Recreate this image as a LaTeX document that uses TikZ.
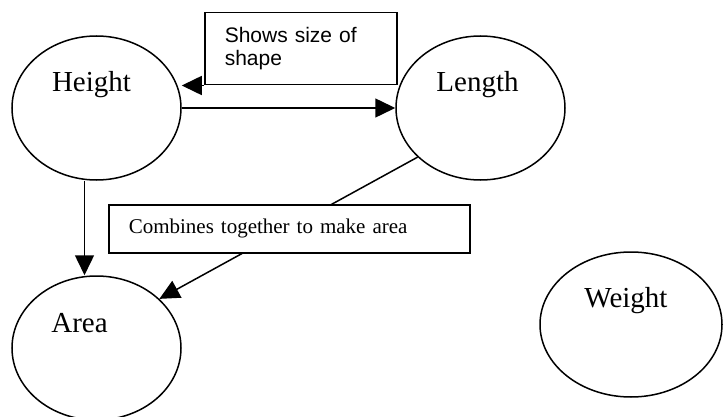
\documentclass[tikz,border=0pt]{standalone}
\usepackage{fontspec}
\setmainfont{Liberation Serif}
\newfontfamily\arialfont{Liberation Sans}
\usetikzlibrary{positioning,arrows.meta,shapes.geometric}

\begin{document}
\begin{tikzpicture}[->,>={Triangle[length=20pt,width=19pt]},line width=1.5pt,x=1pt,y=-1pt]
  \tikzstyle{blob}=[ellipse,draw,inner sep=0pt,minimum width=169pt,minimum height=144pt]
  \tikzstyle{word}=[font=\fontsize{29}{34}\selectfont]
  \tikzstyle{note}=[rectangle,draw,fill=white,align=left,inner xsep=20pt]

  \useasboundingbox (0,0) rectangle (723,417);

  % the four quantities
  \node[blob,label={[word,xshift=-5pt,yshift=23.5pt]center:Height}] (h) at (96.5,108) {};
  \node[blob,label={[word,xshift=-3pt,yshift=23.5pt]center:Length}] (l) at (480.5,108) {};
  \node[blob,label={[word,xshift=-17pt,yshift=24.5pt]center:Area}] (a) at (96.5,348) {};
  \node[blob,minimum width=182pt,minimum height=145pt,label={[word,xshift=-5pt,yshift=23.5pt]center:Weight}] (w) at (631,324.5) {};

  % comment box on top
  \node[note,anchor=north west,text width=152pt,minimum height=72pt,
        font=\arialfont\fontsize{21}{22.5}\selectfont] (sb) at (204,12) {Shows size of\\shape};

  % links
  \draw (sb.south west) -- (sb.south west -| h.east);
  \draw (h) -- (l);
  \draw ([xshift=-12pt]h.south) -- ([xshift=-12pt]a.north);
  \draw (l.218) -- (a.38);

  % second comment box, covers the link
  \node[note,anchor=north west,text width=321pt,minimum height=48pt,
        font=\fontsize{21}{24}\selectfont] (cb) at (108,204) {Combines together to make area};
\end{tikzpicture}
\end{document}
